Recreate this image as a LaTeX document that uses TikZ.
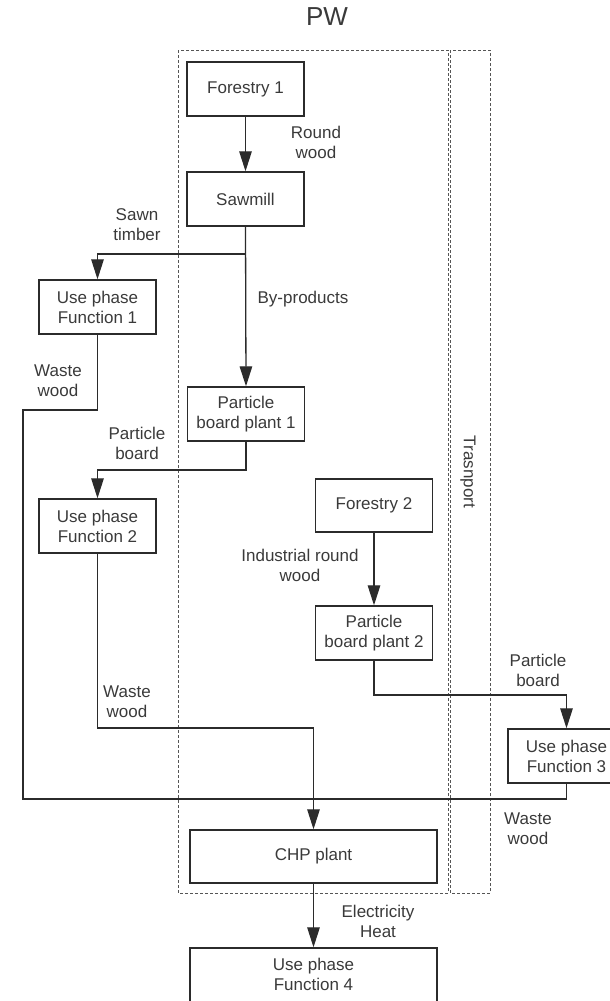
\documentclass[tikz,border=0pt]{standalone}
\usepackage{fontspec}
\setmainfont{Liberation Sans}
\usetikzlibrary{arrows.meta,calc}
\definecolor{ink}{HTML}{2B2B2B}
\definecolor{txt}{HTML}{3A3A3A}
\begin{document}
\begin{tikzpicture}[x=1pt,y=-1pt,
  font=\fontsize{17}{20}\selectfont,
  box/.style={draw=ink,line width=1.4pt,rectangle,inner sep=0pt,
    text=txt,align=center,minimum width=117pt,minimum height=54pt},
  lbl/.style={text=txt,align=center,inner sep=0pt},
  flow/.style={draw=ink,line width=1.3pt},
  arr/.style={flow,-{Triangle[length=20pt,width=12.5pt]}},
  zone/.style={draw=ink!80,line width=0.9pt,dash pattern=on 3pt off 2pt}]
\useasboundingbox (0,0) rectangle (610,1001);

% title
\node[lbl,font=\fontsize{26}{30}\selectfont] (title) at (327,17) {PW};

% system boundaries
\draw[zone] (178,50) rectangle (448,893);
\draw[zone] (450,50) rectangle (490,893);
\node[lbl,rotate=-90] (transport) at (468,472) {Trasnport};

% process boxes
\node[box] (f1)   at (245.5,89)  {Forestry 1};
\node[box] (saw)  at (245.5,199) {Sawmill};
\node[box] (upf1) at (97.5,307)  {Use phase\\Function 1};
\node[box] (pbp1) at (246,414)   {Particle\\board plant 1};
\node[box] (upf2) at (97.5,526)  {Use phase\\Function 2};
\node[box,minimum height=53pt] (f2) at (374,505.5) {Forestry 2};
\node[box] (pbp2) at (374,633)   {Particle\\board plant 2};
\node[box] (upf3) at (566.5,756) {Use phase\\Function 3};
\node[box,minimum width=247pt,minimum height=53pt] (chp) at (313.5,856.5) {CHP plant};
\node[box,minimum width=247pt,minimum height=58pt] (upf4) at (313.5,977) {};
\node[lbl] (upf4t) at (313.5,974) {Use phase\\Function 4};

% junction points
\coordinate (split) at (245.5,254);
\coordinate (pbj)   at (246,470);
\coordinate (w1)    at (23,410);
\coordinate (w2)    at (313.5,728);
\coordinate (w3)    at (23,799);
\coordinate (pb2j)  at (374,695);

% flows
\draw[arr] (f1.south) -- (saw.north);
\draw[arr] (saw.south) -- (pbp1.north);
\draw[arr] (split) -| (upf1.north);
\draw[arr] (pbp1.south) |- (pbj) -| (upf2.north);
\draw[arr] (f2.south) -- (pbp2.north);
\draw[arr] (pbp2.south) |- (pb2j) -| (upf3.north);
\draw[flow] (upf1.south) |- (w1) -- (w3) -| (upf3.south);
\draw[arr] (upf2.south) |- (w2) -- (chp.north);
\draw[arr] (chp.south) -- (upf4.north);

% flow labels
\node[lbl] (l1)  at (316,142) {Round\\wood};
\node[lbl] (l2)  at (137,225) {Sawn\\timber};
\node[lbl] (l3)  at (303,299) {By-products};
\node[lbl] (l4)  at (58,381)  {Waste\\wood};
\node[lbl] (l5)  at (137,443) {Particle\\board};
\node[lbl] (l6)  at (300,565) {Industrial round\\wood};
\node[lbl] (l7)  at (127,702) {Waste\\wood};
\node[lbl] (l8)  at (538,670) {Particle\\board};
\node[lbl] (l9)  at (528,829) {Waste\\wood};
\node[lbl] (l10) at (378,921) {Electricity\\Heat};
\end{tikzpicture}
\end{document}
